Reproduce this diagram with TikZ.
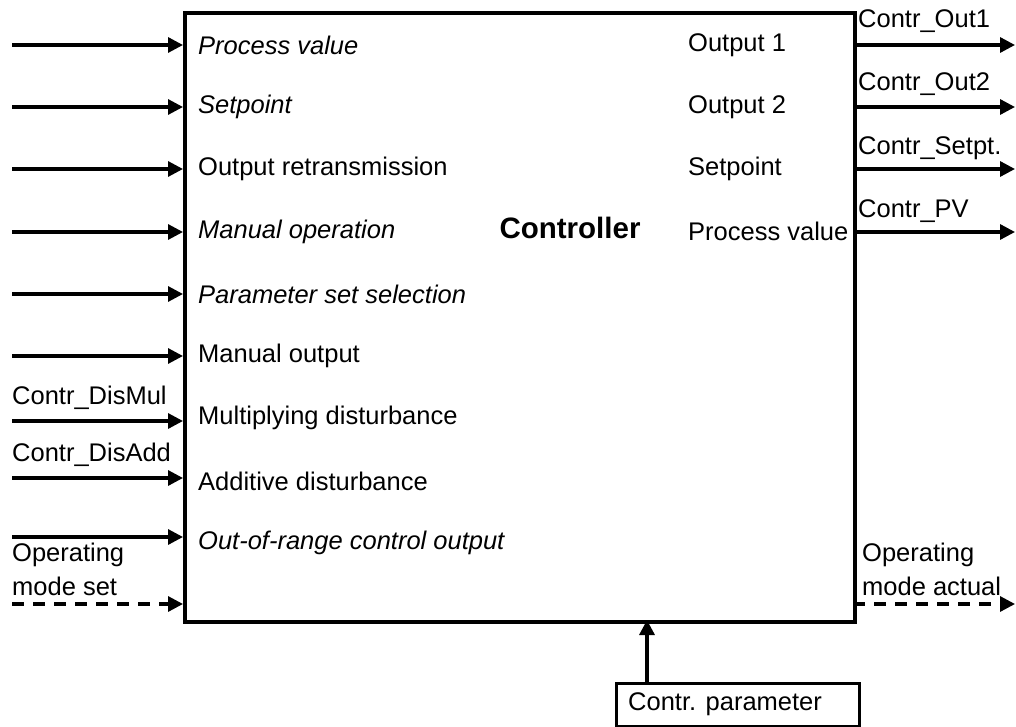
\documentclass[tikz,border=0pt]{standalone}
\usepackage{fontspec}
\setmainfont{Liberation Sans}
\usetikzlibrary{arrows.meta}
\tikzset{
  wire/.style={line width=3.2pt,-{Triangle[length=15pt,width=15pt]}},
  dwire/.style={wire,dash pattern=on 12pt off 9pt},
  lbl/.style={anchor=west,inner sep=0pt,font=\fontsize{25.5}{30}\selectfont},
  ilbl/.style={lbl,font=\fontsize{25.5}{30}\selectfont\itshape},
  boxst/.style={draw,line width=3.8pt,anchor=north west,inner sep=0pt},
}
\begin{document}
\begin{tikzpicture}[x=1pt,y=-1pt]
\useasboundingbox (0,0) rectangle (1016,727);
\node[boxst,minimum width=670pt,minimum height=609pt] (ctrl) at (183,11) {};
\node[font=\fontsize{29.5}{34}\selectfont\bfseries,inner sep=0pt] (title) at (570,228) {Controller};
% left inputs
\foreach \i/\y in {1/45,2/107,3/169,4/232,5/294,6/356,7/421,8/478,9/537}{
  \coordinate (l\i) at (12,\y);
  \coordinate (e\i) at (183,\y);
  \draw[wire] (l\i) -- (e\i);
}
\coordinate (l10) at (12,604); \coordinate (e10) at (183,604);
\draw[dwire] (l10) -- (e10);
\node[ilbl] (t1) at (198,45) {Process value};
\node[ilbl] (t2) at (198,107) {Setpoint};
\node[lbl] (t3) at (198,169) {Output retransmission};
\node[ilbl] (t4) at (198,232) {Manual operation};
\node[ilbl] (t5) at (198,294) {Parameter set selection};
\node[lbl] (t6) at (198,356) {Manual output};
\node[lbl] (t7) at (198,418) {Multiplying disturbance};
\node[lbl] (t8) at (198,481) {Additive disturbance};
\node[ilbl] (t9) at (198,543) {Out-of-range control output};
\node[lbl] (s7) at (12,398) {Contr\_DisMul};
\node[lbl] (s8) at (12,455) {Contr\_DisAdd};
\node[lbl] (s10a) at (12,555) {Operating};
\node[lbl] (s10b) at (12,586) {mode set};
% right outputs
\foreach \i/\y in {1/45,2/107,3/169,4/232}{
  \coordinate (r\i) at (853,\y);
  \coordinate (o\i) at (1015,\y);
  \draw[wire] (r\i) -- (o\i);
}
\coordinate (r5) at (853,604); \coordinate (o5) at (1015,604);
\draw[dwire] (r5) -- (o5);
\node[lbl] (u1) at (688,45) {Output 1};
\node[lbl] (u2) at (688,107) {Output 2};
\node[lbl] (u3) at (688,169) {Setpoint};
\node[lbl] (u4) at (688,231) {Process value};
\node[lbl] (v1) at (858,21) {Contr\_Out1};
\node[lbl] (v2) at (858,84) {Contr\_Out2};
\node[lbl] (v3) at (858,148) {Contr\_Setpt.};
\node[lbl] (v4) at (858,211) {Contr\_PV};
\node[lbl] (v5a) at (862,555) {Operating};
\node[lbl] (v5b) at (862,586) {mode actual};
% parameter box
\node[boxst,line width=3.2pt,minimum width=243pt,minimum height=43pt] (par) at (615,682) {};
\node[lbl] (partxt) at (628,704) {Contr. parameter};
\draw[wire] (par.north -| 647,0) -- (647,620);
\end{tikzpicture}
\end{document}
